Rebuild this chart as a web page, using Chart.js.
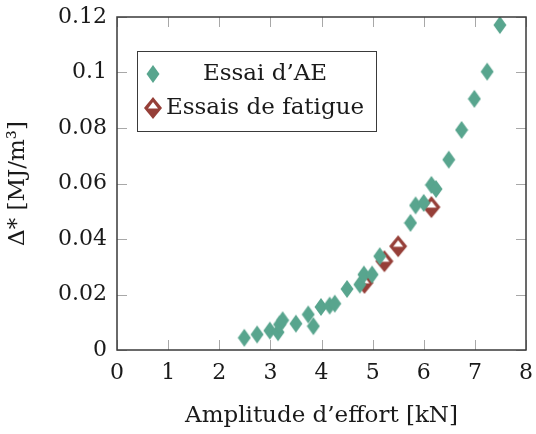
<!DOCTYPE html>
<html><head><meta charset="utf-8">
<script src="https://cdn.jsdelivr.net/npm/chart.js@4/dist/chart.umd.min.js"></script>
<style>html,body{margin:0;padding:0;background:#fff}#wrap{width:536px;height:434px}</style>
</head><body><div id="wrap"><canvas id="c" width="536" height="434"></canvas></div>
<script>
const aeX = [2.49,2.74,2.99,3.15,3.18,3.24,3.50,3.74,3.84,3.99,4.16,4.26,4.50,4.75,4.83,4.99,5.14,5.74,5.84,6.00,6.15,6.24,6.49,6.74,6.99,7.24,7.49];
const aeY = [0.0044,0.0056,0.0070,0.0064,0.0092,0.0107,0.0095,0.0128,0.0086,0.0155,0.0160,0.0167,0.0220,0.0236,0.0272,0.0272,0.0338,0.0458,0.0521,0.0530,0.0595,0.0580,0.0686,0.0793,0.0905,0.1003,0.1171];
const fatX = [4.84,5.23,5.50,6.15];
const fatY = [0.0242,0.0320,0.0374,0.0515];
const xTicks = [0,1,2,3,4,5,6,7,8];
const yTicks = [0,0.02,0.04,0.06,0.08,0.1,0.12];
const seriesNames = ["Essai d\u2019AE","Essais de fatigue"];
const xTitle = "Amplitude d\u2019effort [kN]";
const yTitle = "\u0394* [MJ/m\u00B3]";

const GREEN = '#58a58e', RED = '#963f38', INK = '#1a1a1a';
const FONT = "'DejaVu Serif', serif";

function greenDiamond(){
  const c=document.createElement('canvas'); c.width=14; c.height=20;
  const g=c.getContext('2d'); g.fillStyle=GREEN; g.beginPath();
  g.moveTo(7,1); g.lineTo(13.5,10); g.lineTo(7,19); g.lineTo(0.5,10); g.closePath(); g.fill(); return c;
}
function redDiamond(){
  const c=document.createElement('canvas'); c.width=20; c.height=24;
  const g=c.getContext('2d'); g.fillStyle=RED; g.beginPath();
  g.moveTo(10,1); g.lineTo(19,12); g.lineTo(10,23); g.lineTo(1,12); g.closePath(); g.fill();
  g.fillStyle='#fff'; g.beginPath(); g.moveTo(10,6); g.lineTo(15,12.5); g.lineTo(5,12.5); g.closePath(); g.fill();
  return c;
}
const gImg=greenDiamond(), rImg=redDiamond();

const frame = {
  id:'frame',
  afterDatasetsDraw(chart){
    const {ctx, chartArea:a, scales:{x,y}} = chart;
    ctx.save();
    ctx.strokeStyle='#a8a8a8'; ctx.lineWidth=1;
    const L=10;
    xTicks.forEach(v=>{ const px=Math.round(x.getPixelForValue(v))+0.5;
      ctx.beginPath(); ctx.moveTo(px,a.bottom); ctx.lineTo(px,a.bottom-L); ctx.moveTo(px,a.top); ctx.lineTo(px,a.top+L); ctx.stroke();});
    yTicks.forEach(v=>{ const py=Math.round(y.getPixelForValue(v))+0.5;
      ctx.beginPath(); ctx.moveTo(a.left,py); ctx.lineTo(a.left+L,py); ctx.moveTo(a.right,py); ctx.lineTo(a.right-L,py); ctx.stroke();});
    ctx.strokeStyle='#3a3a3a'; ctx.lineWidth=1.5;
    ctx.strokeRect(a.left,a.top,a.right-a.left,a.bottom-a.top);
    // legend
    const bx=137, by=51, bw=239, bh=80;
    ctx.fillStyle='#fff'; ctx.fillRect(bx,by,bw,bh);
    ctx.strokeStyle='#3a3a3a'; ctx.lineWidth=1; ctx.strokeRect(bx+0.5,by+0.5,bw,bh);
    ctx.drawImage(gImg,153-7,74-10);
    ctx.drawImage(rImg,153-10,108-12);
    ctx.fillStyle=INK; ctx.font="23px "+FONT; ctx.textAlign='center'; ctx.textBaseline='middle';
    ctx.fillText(seriesNames[0],265,74);
    ctx.fillText(seriesNames[1],265,108);
    ctx.restore();
  }
};

new Chart(document.getElementById('c'),{
  type:'scatter',
  data:{datasets:[
    {label:seriesNames[0], data:aeX.map((v,i)=>({x:v,y:aeY[i]})), pointStyle:gImg, pointRadius:8},
    {label:seriesNames[1], data:fatX.map((v,i)=>({x:v,y:fatY[i]})), pointStyle:rImg, pointRadius:9}
  ]},
  options:{
    responsive:false, animation:false, devicePixelRatio:1,
    layout:{padding:{top:17,right:10,left:0,bottom:0}},
    plugins:{legend:{display:false},tooltip:{enabled:false}},
    scales:{
      x:{type:'linear',min:0,max:8,
        afterBuildTicks(s){s.ticks=xTicks.map(v=>({value:v}));},
        afterFit(s){s.height=84; s.paddingLeft=0; s.paddingRight=0;},
        grid:{display:false,drawTicks:false}, border:{display:false},
        ticks:{color:INK,font:{family:FONT,size:22},padding:10,maxRotation:0,callback:v=>String(v)},
        title:{display:true,text:xTitle,color:INK,font:{family:FONT,size:23},padding:{top:2}}
      },
      y:{type:'linear',min:0,max:0.12,
        afterBuildTicks(s){s.ticks=yTicks.map(v=>({value:v}));},
        afterFit(s){s.width=117; s.paddingTop=0; s.paddingBottom=0;},
        grid:{display:false,drawTicks:false}, border:{display:false},
        ticks:{color:INK,font:{family:FONT,size:22},padding:10,callback:v=>String(v)},
        title:{display:true,text:yTitle,color:INK,font:{family:FONT,size:23},padding:{bottom:2}}
      }
    }
  },
  plugins:[frame]
});
</script></body></html>
